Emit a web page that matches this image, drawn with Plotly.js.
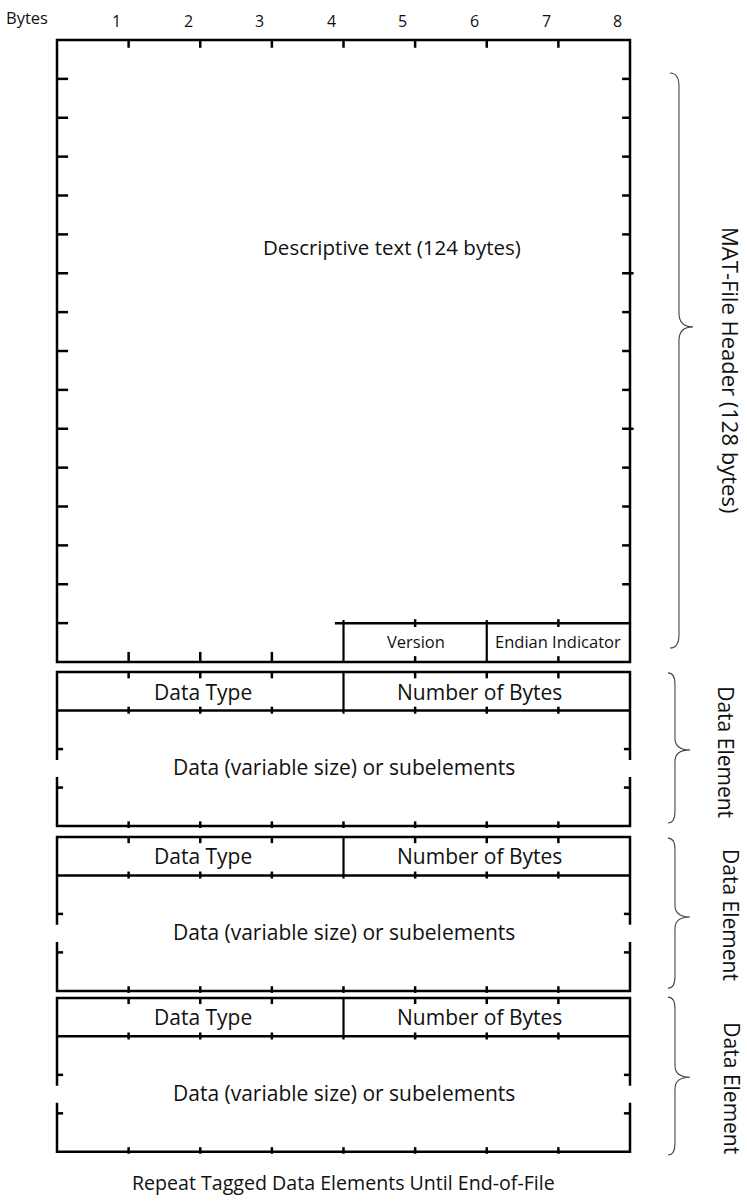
<!DOCTYPE html>
<html><head><meta charset="utf-8">
<script src="https://cdn.plot.ly/plotly-3.0.1.min.js"></script>
<style>html,body{margin:0;padding:0;background:#fff}</style>
</head><body><div id="chart" style="width:747px;height:1201px"></div>
<script>
// ---- content ----
const byteLabels = ['1','2','3','4','5','6','7','8'];
const bytesLabel = 'Bytes';
const headerRowCount = 16;           // 16 rows x 8 bytes = 128 bytes
const bytesPerRow = 8;
const headerText = 'Descriptive text (124 bytes)';
const headerSubFields = ['Version', 'Endian Indicator'];
const tagLabels = ['Data Type', 'Number of Bytes'];
const dataLabel = 'Data (variable size) or subelements';
const elementNames = ['Data Element', 'Data Element', 'Data Element'];
const headerBraceLabel = 'MAT-File Header (128 bytes)';
const footerText = 'Repeat Tagged Data Elements Until End-of-File';

// ---- layout (row units: 1 = one 8-byte row) ----
const elementTops = [16.26, 20.50, 24.64];
const ER = 0.99;                       // element row height
const FONT = 'Open Sans, Lato, sans-serif';
const LW = 2.5, INK = '#000';

const shapes = [];
const ann = [];
function ln(x0,y0,x1,y1,w){ shapes.push({type:'line',xref:'x',yref:'y',x0,y0,x1,y1,line:{color:INK,width:w||LW}}); }
function path(d,w,c){ shapes.push({type:'path',xref:'x',yref:'y',path:d,line:{color:c||INK,width:w||LW}}); }
function txt(x,y,t,size,extra){ ann.push(Object.assign({xref:'x',yref:'y',x,y,text:t,showarrow:false,font:{family:FONT,size,color:'#111'},xanchor:'center',yanchor:'middle'},extra||{})); }

// ---- header box ----
const W = bytesPerRow, H = headerRowCount;
shapes.push({type:'rect',xref:'x',yref:'y',x0:0,y0:0,x1:W,y1:H,line:{color:INK,width:LW}});
for (let c=1;c<W;c++) ln(c,0,c,0.2);                        // top ticks
for (let r=1;r<H;r++) ln(0,r,0.155,r);                        // left ticks
for (let r=1;r<H-1;r++) ln(W,r,W-0.11,r);                     // right ticks
ln(W,6,W+0.05,6); ln(W,10,W+0.05,10);
for (let c=1;c<4;c++) ln(c,H,c,H-0.26);                       // bottom ticks
// Version / Endian row
ln(4-0.12,H-1,W,H-1);
ln(4,H-1-0.08,4,H,2.2); ln(6,H-1-0.08,6,H,2.2);
[5,7].forEach(c=>{ ln(c,H-1-0.1,c,H-1+0.1); ln(c,H,c,H-0.15); });

// byte labels
byteLabels.forEach((b,i)=>txt(i+1-0.17,-0.49,b,16));
txt(-0.42,-0.57,bytesLabel,16.5);
txt(4.68,5.32,headerText,20.5);
txt(5.01,H-0.54,headerSubFields[0],16.5);
txt(6.99,H-0.54,headerSubFields[1],16.5);

// ---- data elements ----
elementTops.forEach((T,k)=>{
  const B = T + 4*ER, tag = T + ER, t1 = T + 2*ER, t2 = T + 3*ER;
  const gapA = T + 2.26, gapB = T + 2.70;
  path(`M 0,${gapA} L 0,${T} L ${W},${T} L ${W},${gapA}`);
  path(`M 0,${gapB} L 0,${B} L ${W},${B} L ${W},${gapB}`);
  ln(0,tag,W,tag);
  ln(4,T,4,tag+0.08,2.2);
  [1,2,3,5,6,7].forEach(c=>{ ln(c,T,c,T+0.16); ln(c,tag-0.1,c,tag+0.08); });
  for (let c=1;c<W;c++) ln(c,B+0.05,c,B-0.12);
  [t1,t2].forEach(y=>{ ln(0,y,0.085,y); ln(W,y,W-0.085,y); });
  txt(2.04,T+0.5,tagLabels[0],21);
  txt(5.9,T+0.5,tagLabels[1],21);
  txt(4.0,T+2.45,dataLabel,21);
});
txt(4.0,29.40,footerText,19.6);

// ---- braces ----
function brace(top,tip,bot,x0,x1,x2,c){
  path(`M ${x0},${top} Q ${x1},${top} ${x1},${top+c} L ${x1},${tip-c} Q ${x1},${tip} ${x2},${tip} Q ${x1},${tip} ${x1},${tip+c} L ${x1},${bot-c} Q ${x1},${bot} ${x0},${bot}`,1.1,'#444');
}
brace(0.85,7.38,15.64,8.558,8.684,8.88,0.35);
const eb = [[16.28,18.26,20.14],[20.53,22.56,24.39],[24.62,26.68,28.68]];
eb.forEach(b=>brace(b[0],b[1],b[2],8.53,8.628,8.838,0.3));
txt(9.41,8.49,headerBraceLabel,22,{textangle:90});
const eLabX = [9.34,9.41,9.42], eLabY = [18.32,22.51,26.96];
elementNames.forEach((n,i)=>txt(eLabX[i],eLabY[i],n,21,{textangle:90}));

const layout = {
  width:747, height:1201, margin:{l:0,r:0,t:0,b:0},
  paper_bgcolor:'#fff', plot_bgcolor:'#fff', showlegend:false,
  xaxis:{range:[-57/71.625,(747-57)/71.625],visible:false,fixedrange:true},
  yaxis:{range:[(1201-40)/38.875,-40/38.875],visible:false,fixedrange:true},
  shapes, annotations:ann
};
Plotly.newPlot('chart',[{x:[],y:[],type:'scatter',hoverinfo:'skip'}],layout,{staticPlot:true,displayModeBar:false});
</script></body></html>
